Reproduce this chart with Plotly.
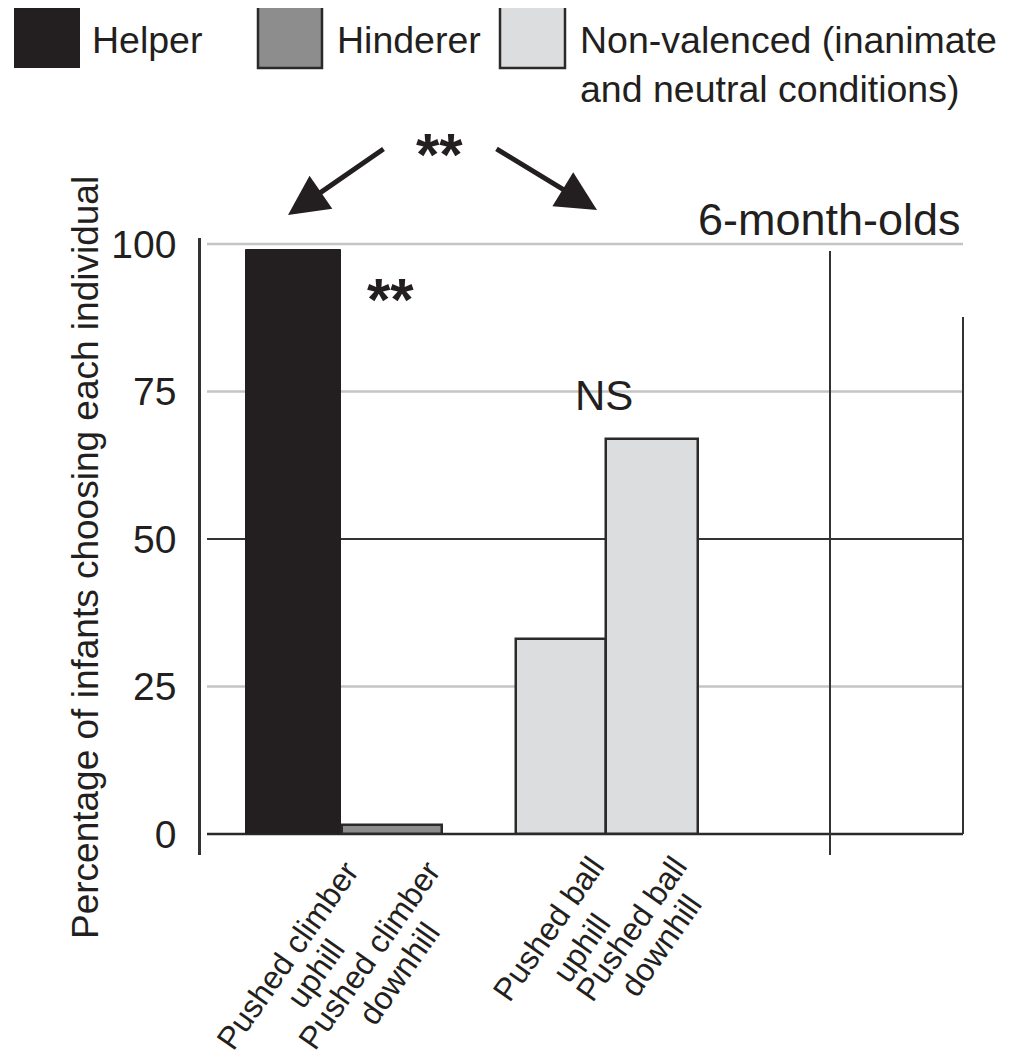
import plotly.graph_objects as go

# ---- data ----
cat_line1 = ["Pushed climber", "Pushed climber", "Pushed ball", "Pushed ball"]
cat_line2 = ["uphill", "downhill", "uphill", "downhill"]
x_pos = [0.0, 1.02, 2.77, 3.71]
values = [99, 1.5, 33, 67]
groups = ["Helper", "Hinderer", "Non-valenced", "Non-valenced"]
y_ticks = [0, 25, 50, 75, 100]
legend_labels = ["Helper", "Hinderer", "Non-valenced (inanimate<br>and neutral conditions)"]

# ---- styles ----
fill = {"Helper": "#231f20", "Hinderer": "#8d8d8d", "Non-valenced": "#dcdddf"}
edge = {"Helper": "#231f20", "Hinderer": "#2a2a2a", "Non-valenced": "#2a2a2a"}
bar_widths = [0.98, 1.04, 0.93, 0.95]
FONT = "Liberation Sans, Arial, Helvetica, sans-serif"
TXT = "#231f20"

OFF = 8  # page body margin
W, H = 1004, 1052
L, R, T, B = 193, 49, 230, 205
PW, PH = W - L - R, H - T - B
BAR_PX = [291.5, 390.5, 560, 651]  # window px centres (for label offsets)
# label line centres in window px
L1_POS = [(286, 955), (368, 955), (547, 929), (630, 929)]
L2_POS = [(314, 973), (398, 973), (580, 948), (660, 945)]


def fx(p):
    return (p - OFF - L) / PW


def fy(p):
    return (H + OFF - B - p) / PH


fig = go.Figure()
fig.add_trace(go.Bar(
    x=x_pos, y=values, width=bar_widths,
    marker=dict(color=[fill[g] for g in groups],
                line=dict(color=[edge[g] for g in groups],
                          width=[1, 2.5, 2.5, 2.5])),
    hoverinfo="skip", showlegend=False,
))

shapes = []
for v in y_ticks:
    if v == 0:
        col, w = "#2a2a2a", 2.5
    elif v == 50:
        col, w = "#333333", 2
    else:
        col, w = "#c4c4c4", 2.5
    shapes.append(dict(type="line", xref="paper", yref="y", x0=fx(207), x1=fx(963),
                       y0=v, y1=v, line=dict(color=col, width=w), layer="below"))
shapes.append(dict(type="line", xref="paper", yref="paper", x0=fx(830), x1=fx(830),
                   y0=fy(855), y1=fy(251), line=dict(color="#333333", width=2)))
shapes.append(dict(type="line", xref="paper", yref="paper", x0=fx(963), x1=fx(963),
                   y0=fy(834), y1=fy(317), line=dict(color="#333333", width=2)))
leg_boxes = [(14, 80), (258, 322), (500, 565)]
leg_groups = ["Helper", "Hinderer", "Non-valenced"]
for (a, b), g in zip(leg_boxes, leg_groups):
    shapes.append(dict(type="rect", xref="paper", yref="paper",
                       x0=fx(a), x1=fx(b), y0=fy(68), y1=fy(6),
                       fillcolor=fill[g],
                       line=dict(color=edge[g], width=0 if g == "Helper" else 2.5)))

ann = []
leg_text_x = [90, 335, 578]
leg_text_y = [40, 40, 65]
for lab, tx, ty in zip(legend_labels, leg_text_x, leg_text_y):
    ann.append(dict(text=lab, xref="paper", yref="paper", x=fx(tx), y=fy(ty),
                    xanchor="left", yanchor="middle", align="left", showarrow=False,
                    font=dict(family=FONT, size=37.5, color=TXT)))

# category labels (two rotated lines each)
for i, xp in enumerate(x_pos):
    for txt, (cx, cy) in ((cat_line1[i], L1_POS[i]), (cat_line2[i], L2_POS[i])):
        ann.append(dict(text=txt, xref="x", yref="paper", x=xp, xshift=cx - BAR_PX[i],
                        y=fy(cy), xanchor="center", yanchor="middle", textangle=-55,
                        showarrow=False, font=dict(family=FONT, size=32, color=TXT)))

ann.append(dict(text="Percentage of infants choosing each individual", xref="paper",
                yref="paper", x=fx(85), y=fy(558), textangle=-90, showarrow=False,
                xanchor="center", yanchor="middle",
                font=dict(family=FONT, size=37, color=TXT)))

ann.append(dict(text="<b>**</b>", xref="paper", yref="paper", x=fx(439), y=fy(154),
                xanchor="center", yanchor="middle", showarrow=False,
                font=dict(family=FONT, size=60, color=TXT)))
ann.append(dict(text="<b>**</b>", xref="paper", yref="paper", x=fx(390), y=fy(299),
                xanchor="center", yanchor="middle", showarrow=False,
                font=dict(family=FONT, size=60, color=TXT)))
ann.append(dict(text="NS", xref="paper", yref="paper", x=fx(604), y=fy(395),
                xanchor="center", yanchor="middle", showarrow=False,
                font=dict(family=FONT, size=42, color=TXT)))
ann.append(dict(text="6-month-olds", xref="paper", yref="paper", x=fx(963), y=fy(219),
                xanchor="right", yanchor="middle", showarrow=False,
                font=dict(family=FONT, size=45, color=TXT)))

ann.append(dict(text="", xref="paper", yref="paper", x=fx(288), y=fy(215),
                ax=97, ay=-67, axref="pixel", ayref="pixel", showarrow=True,
                arrowhead=2, arrowsize=1.6, arrowwidth=5, arrowcolor=TXT, standoff=0))
ann.append(dict(text="", xref="paper", yref="paper", x=fx(597), y=fy(210),
                ax=-102, ay=-62, axref="pixel", ayref="pixel", showarrow=True,
                arrowhead=2, arrowsize=1.6, arrowwidth=5, arrowcolor=TXT, standoff=0))

fig.update_layout(
    width=W, height=H,
    margin=dict(l=L, r=R, t=T, b=B),
    paper_bgcolor="white", plot_bgcolor="white",
    shapes=shapes, annotations=ann,
    bargap=0,
    xaxis=dict(range=[-0.954, 6.922], showgrid=False, zeroline=False,
               showline=False, showticklabels=False, fixedrange=True),
    yaxis=dict(range=[-3.56, 101.02], tickvals=y_ticks, ticktext=[str(v) for v in y_ticks],
               showgrid=False, zeroline=False, showline=True, linecolor="#333333",
               linewidth=2.5, ticks="outside", ticklen=14, tickcolor="rgba(0,0,0,0)",
               tickfont=dict(family=FONT, size=39, color=TXT), fixedrange=True),
)

fig.write_html("out.html")
